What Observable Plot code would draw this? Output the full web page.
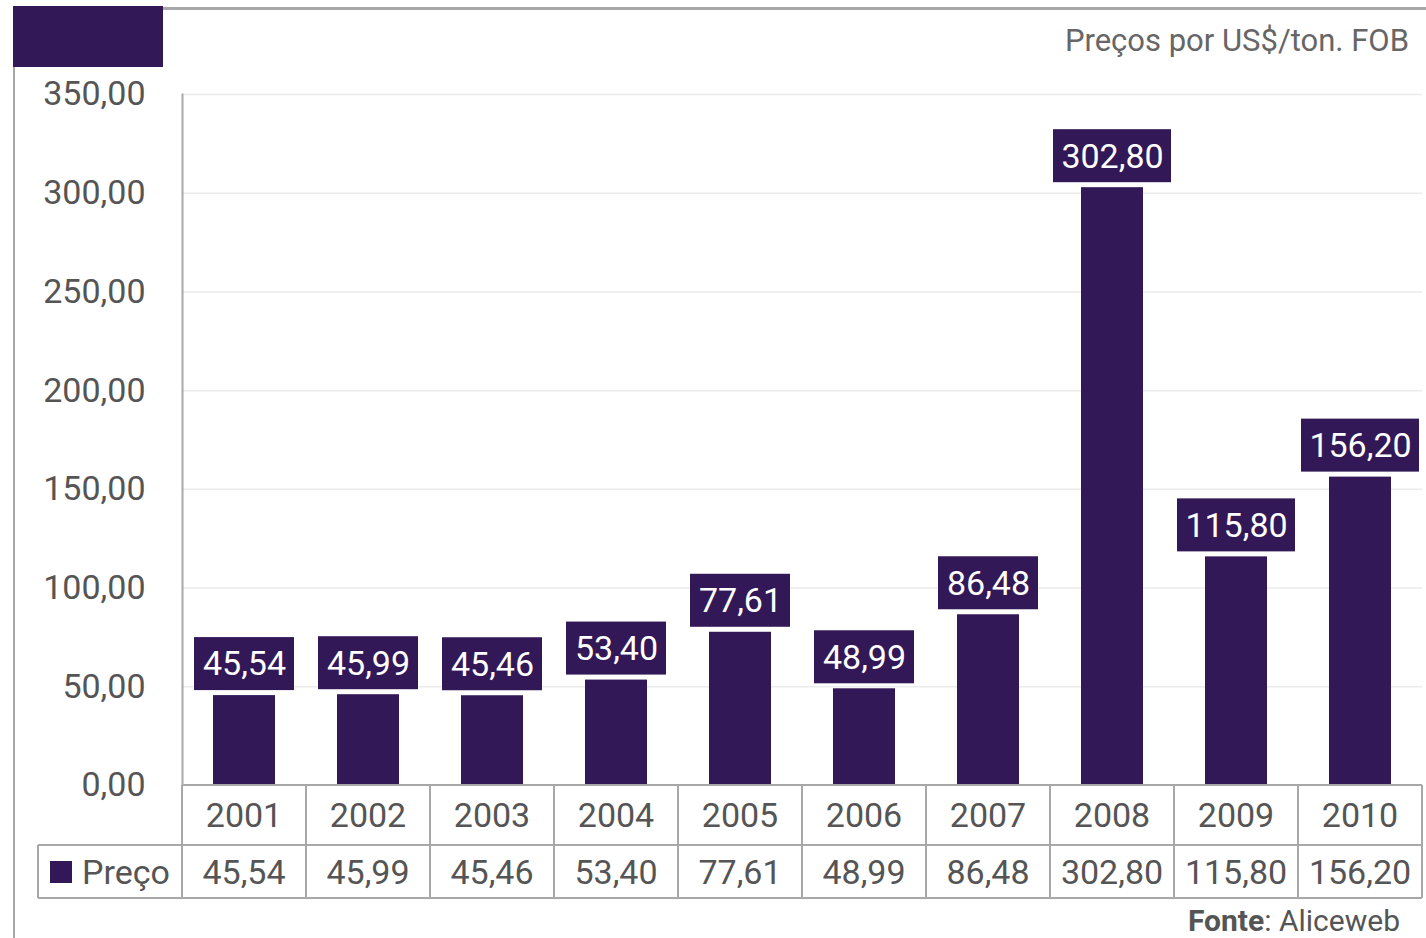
<!DOCTYPE html>
<html>
<head>
<meta charset="utf-8">
<script src="https://cdn.jsdelivr.net/npm/d3@7"></script>
<script src="https://cdn.jsdelivr.net/npm/@observablehq/plot@0.6"></script>
<style>
  body { margin: 0; background: #fff; }
  #wrap { position: relative; width: 1426px; height: 938px; overflow: hidden; font-family: Roboto, sans-serif; color: #555; }
  #wrap svg { position: absolute; left: 0; top: 0; }
  .abs { position: absolute; }
  .line { position: absolute; background: #a8a8a8; }
  .cell { position: absolute; display: flex; align-items: center; justify-content: center; font-size: 34px; color: #555; }
</style>
</head>
<body>
<div id="wrap"></div>
<script>
const years = ["2001","2002","2003","2004","2005","2006","2007","2008","2009","2010"];
const precos = [45.54, 45.99, 45.46, 53.40, 77.61, 48.99, 86.48, 302.80, 115.80, 156.20];
const yTicks = [0, 50, 100, 150, 200, 250, 300, 350];
const seriesName = "Preço";
const subtitle = "Preços por US$/ton. FOB";
const sourceLabel = "Fonte";
const sourceName = "Aliceweb";

const PURPLE = "#321857";
const fmt = v => v.toFixed(2).replace(".", ",");
const data = years.map((y, i) => ({year: y, v: precos[i], label: fmt(precos[i])}));

const wrap = document.getElementById("wrap");

const plot = Plot.plot({
  width: 1426,
  height: 820,
  marginLeft: 182,
  marginRight: 4,
  marginTop: 94,
  marginBottom: 35,
  style: {fontFamily: "Roboto, sans-serif", fontSize: "34px", color: "#555", background: "transparent"},
  x: {domain: years, paddingInner: 0.5, paddingOuter: 0.25, axis: null},
  y: {domain: [0, 350], ticks: yTicks},
  marks: [
    Plot.gridY(yTicks, {stroke: "#ebebeb", strokeOpacity: 1, strokeWidth: 1.5}),
    Plot.axisY(yTicks, {tickSize: 0, tickPadding: 37, tickFormat: fmt, label: null, fill: "#555", fontSize: 34}),
    Plot.frame({anchor: "left", stroke: "#a8a8a8", strokeWidth: 2}),
    Plot.barY(data, {x: "year", y: "v", fill: PURPLE}),
    Plot.barY(data.filter(d => d.label.length <= 5), {x: "year", y1: "v", y2: "v", fill: PURPLE, insetLeft: -19, insetRight: -19, insetTop: -58, insetBottom: 5}),
    Plot.barY(data.filter(d => d.label.length > 5), {x: "year", y1: "v", y2: "v", fill: PURPLE, insetLeft: -28, insetRight: -28, insetTop: -58, insetBottom: 5}),
    Plot.text(data, {x: "year", y: "v", text: "label", fill: "white", fontSize: 34, dy: -31, lineAnchor: "middle"})
  ]
});
wrap.appendChild(plot);

const sx = plot.scale("x");
const step = sx.step, bw = sx.bandwidth;
const colLeft = y => sx.apply(y) - (step - bw) / 2;
const tableLeft = colLeft(years[0]);
const tableRight = colLeft(years[years.length - 1]) + step;
const yTop = plot.scale("y").apply(0), yMid = yTop + 60, yBot = yTop + 113, legendLeft = 38;

function el(cls, styles, html) {
  const d = document.createElement("div");
  d.className = cls;
  Object.assign(d.style, styles);
  if (html !== undefined) d.innerHTML = html;
  wrap.appendChild(d);
  return d;
}
// white background below the plot area for the table
el("abs", {left: tableLeft + "px", top: yTop + "px", width: (tableRight - tableLeft) + "px", height: (yBot - yTop) + "px", background: "#fff"});
// horizontal lines
el("line", {left: tableLeft + "px", top: (yTop - 1) + "px", width: (tableRight - tableLeft) + "px", height: "2px"});
el("line", {left: legendLeft + "px", top: (yMid - 1) + "px", width: (tableRight - legendLeft) + "px", height: "2px"});
el("line", {left: legendLeft + "px", top: (yBot - 1) + "px", width: (tableRight - legendLeft) + "px", height: "2px"});
// vertical lines
el("line", {left: (legendLeft - 1) + "px", top: yMid + "px", width: "2px", height: (yBot - yMid) + "px"});
years.forEach(y => el("line", {left: (colLeft(y) - 1) + "px", top: yTop + "px", width: "2px", height: (yBot - yTop) + "px"}));
el("line", {left: (tableRight - 1) + "px", top: yTop + "px", width: "2px", height: (yBot - yTop) + "px"});

// cells
data.forEach(d => {
  el("cell", {left: colLeft(d.year) + "px", top: yTop + "px", width: step + "px", height: (yMid - yTop) + "px"}, d.year);
  el("cell", {left: colLeft(d.year) + "px", top: yMid + "px", width: step + "px", height: (yBot - yMid) + "px"}, d.label);
});
el("cell", {left: legendLeft + "px", top: yMid + "px", width: (tableLeft - legendLeft) + "px", height: (yBot - yMid) + "px"},
  `<span style="display:inline-block;width:22px;height:22px;background:${PURPLE};margin-right:10px;"></span>${seriesName}`);

// frame decorations
el("abs", {left: "13px", top: "6px", width: "150px", height: "61px", background: PURPLE});
el("abs", {left: "163px", top: "7px", width: "1263px", height: "3px", background: "#a8a8a8"});
el("abs", {left: "13px", top: "67px", width: "2px", height: "871px", background: "#a8a8a8"});

// subtitle and source
el("abs", {right: "17px", top: "22px", fontSize: "31px", color: "#666", whiteSpace: "nowrap"}, subtitle);
el("abs", {right: "26px", top: "905px", fontSize: "30px", lineHeight: "31px", color: "#555", whiteSpace: "nowrap"}, `<b>${sourceLabel}</b>: ${sourceName}`);
</script>
</body>
</html>
